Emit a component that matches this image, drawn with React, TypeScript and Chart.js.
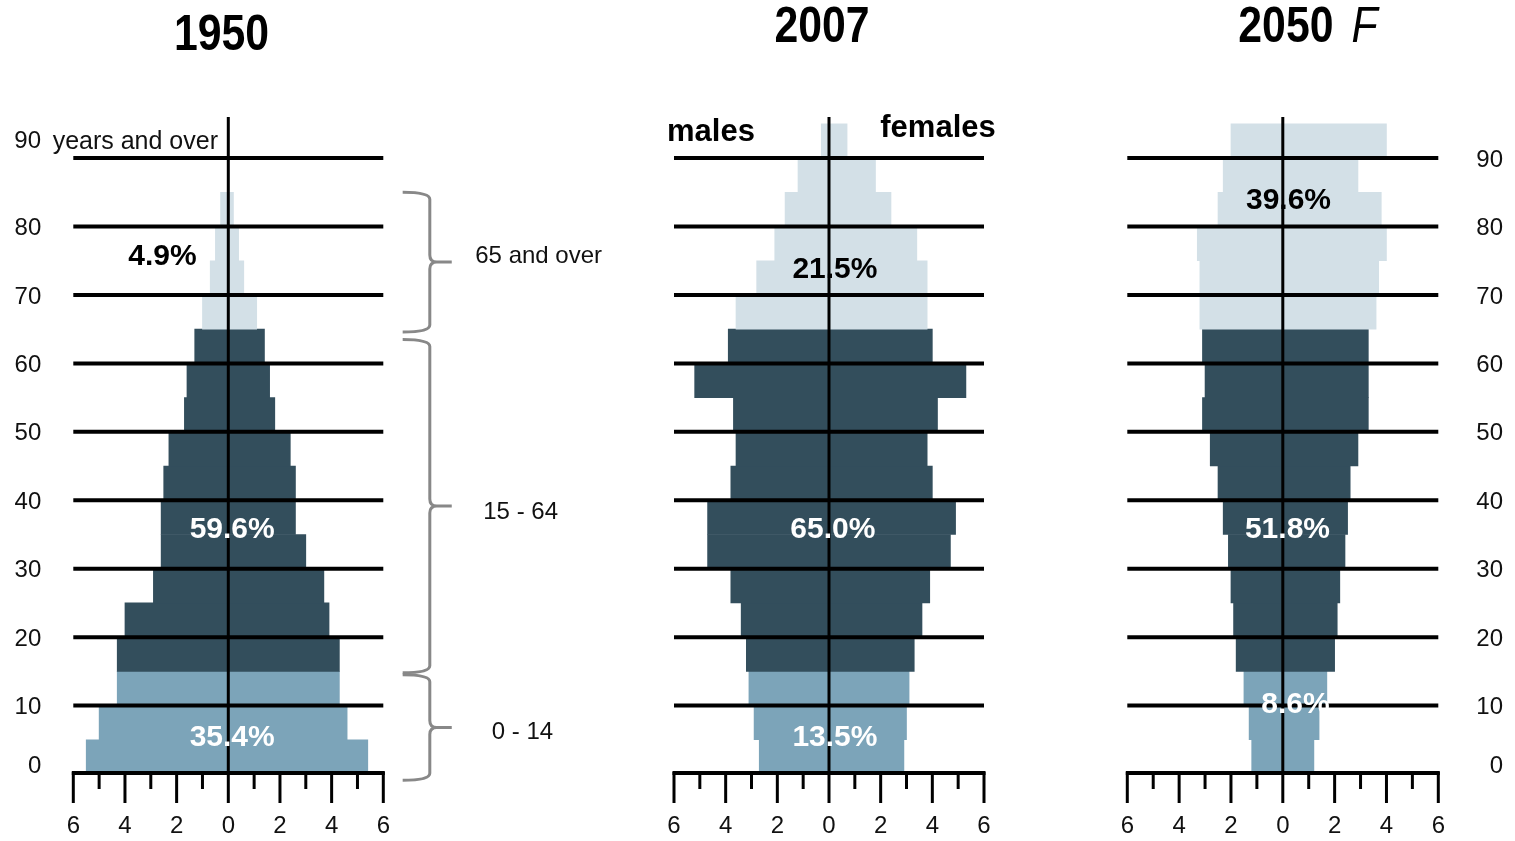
import React, { useEffect, useRef } from 'react';
import { Chart, registerables } from 'chart.js';

Chart.register(...registerables);

// ---------- data ----------
const ageGroups = ['0-4', '5-9', '10-14', '15-19', '20-24', '25-29', '30-34', '35-39', '40-44', '45-49', '50-54', '55-59', '60-64', '65-69', '70-74', '75-79', '80-84', '85-89', '90+'];
const ageGroupStarts = [0, 5, 10, 15, 20, 25, 30, 35, 40, 45, 50, 55, 60, 65, 70, 75, 80, 85, 90];
const ageGroupSpan = 5;

const males1950 = [5.5, 5.0, 4.3, 4.3, 4.0, 2.9, 2.6, 2.6, 2.5, 2.3, 1.7, 1.6, 1.3, 1.0, 0.7, 0.5, 0.3, 0, 0];
const females1950 = [5.4, 4.6, 4.3, 4.3, 3.9, 3.7, 3.0, 2.6, 2.6, 2.4, 1.8, 1.6, 1.4, 1.1, 0.6, 0.4, 0.2, 0, 0];

const males2007 = [2.7, 2.9, 3.1, 3.2, 3.4, 3.8, 4.7, 4.7, 3.8, 3.6, 3.7, 5.2, 3.9, 3.6, 2.8, 2.1, 1.7, 1.2, 0.3];
const females2007 = [2.9, 3.0, 3.1, 3.3, 3.6, 3.9, 4.7, 4.9, 4.0, 3.8, 4.2, 5.3, 4.0, 3.8, 3.8, 3.4, 2.4, 1.8, 0.7];

const males2050 = [1.2, 1.3, 1.5, 1.8, 1.9, 2.0, 2.1, 2.3, 2.5, 2.8, 3.1, 3.0, 3.1, 3.2, 3.2, 3.3, 2.5, 2.3, 2.0];
const females2050 = [1.2, 1.4, 1.7, 2.0, 2.1, 2.2, 2.4, 2.5, 2.6, 2.9, 3.3, 3.3, 3.3, 3.6, 3.7, 4.0, 3.8, 2.9, 4.0];

const broadGroupNames = ['0 - 14', '15 - 64', '65 and over'];
const broadGroupFirstAge = [0, 15, 65];
const shares1950 = ['35.4%', '59.6%', '4.9%'];
const shares2007 = ['13.5%', '65.0%', '21.5%'];
const shares2050 = ['8.6%', '51.8%', '39.6%'];

const xAxisLabelValues = [-6, -4, -2, 0, 2, 4, 6];
const xAxisTickValues = [-6, -5, -4, -3, -2, -1, 0, 1, 2, 3, 4, 5, 6];
const ageGridValues = [10, 20, 30, 40, 50, 60, 70, 80, 90];

// ---------- styles / layout ----------
const FONT = '"Liberation Sans", Arial, Helvetica, sans-serif';
const GROUP_COLORS = ['#7ca4b9', '#334e5c', '#d3e0e7'];
const TEXT_COLOR = '#111';
const CANVAS_H = 841;
const AGE_MAX = 96;

function groupOf(age: number) {
  let g = 0;
  broadGroupFirstAge.forEach((a, i) => { if (age >= a) g = i; });
  return g;
}

type Note = { text: string; x: number; y: number; font: string; align: CanvasTextAlign; color: string };

type Panel = {
  key: string;
  left: number;
  width: number;
  padding: { left: number; right: number; top: number; bottom: number };
  yAxis: 'left' | 'right' | 'none';
  yAxisWidth: number;
  yTicks: number[];
  males: number[];
  females: number[];
  shares: string[];
  shareAt: { x: number; y: number }[];
  title: string;
  titleSuffix?: string;
  titleX: number;
  titleBaseline: number;
  notes: Note[];
  braces: boolean;
};

const panels: Panel[] = [
  {
    key: '1950', left: 0, width: 640,
    padding: { left: 0, right: 256.7, top: 117, bottom: 0 },
    yAxis: 'left', yAxisWidth: 73.3, yTicks: [10, 20, 30, 40, 50, 60, 70, 80],
    males: males1950, females: females1950, shares: shares1950,
    shareAt: [{ x: 0.15, y: 5.3 }, { x: 0.15, y: 35.7 }, { x: -2.55, y: 75.6 }],
    title: '1950', titleX: -0.26, titleBaseline: 49.5,
    notes: [
      { text: '90', x: -7.25, y: 92.4, font: `24px ${FONT}`, align: 'right', color: TEXT_COLOR },
      { text: 'years and over', x: -6.8, y: 92.4, font: `25px ${FONT}`, align: 'left', color: TEXT_COLOR },
    ],
    braces: true,
  },
  {
    key: '2007', left: 640, width: 420,
    padding: { left: 34, right: 76, top: 117, bottom: 0 },
    yAxis: 'none', yAxisWidth: 0, yTicks: [],
    males: males2007, females: females2007, shares: shares2007,
    shareAt: [{ x: 0.23, y: 5.3 }, { x: 0.15, y: 35.7 }, { x: 0.23, y: 73.7 }],
    title: '2007', titleX: -0.27, titleBaseline: 41.5,
    notes: [
      { text: 'males', x: -4.57, y: 93.8, font: `bold 31px ${FONT}`, align: 'center', color: '#000' },
      { text: 'females', x: 4.22, y: 94.3, font: `bold 31px ${FONT}`, align: 'center', color: '#000' },
    ],
    braces: false,
  },
  {
    key: '2050', left: 1080, width: 435,
    padding: { left: 47.3, right: 12, top: 117, bottom: 0 },
    yAxis: 'right', yAxisWidth: 64.7, yTicks: [10, 20, 30, 40, 50, 60, 70, 80, 90],
    males: males2050, females: females2050, shares: shares2050,
    shareAt: [{ x: 0.49, y: 10.1 }, { x: 0.18, y: 35.7 }, { x: 0.22, y: 83.8 }],
    title: '2050', titleSuffix: 'F', titleX: 0.97, titleBaseline: 41.5,
    notes: [],
    braces: false,
  },
];

// brace ranges (age units) and label placement (axis units)
const braceRanges = [[-0.9, 14.5], [14.8, 63.5], [64.6, 85]];
const braceLabelX = [10.2, 9.87, 9.56];
const braceLabelAge = [6.1, 38.3, 75.6];
const BRACE = { spine: 7.8, end: 6.75, tip: 8.65 };

function drawScaledText(ctx: CanvasRenderingContext2D, text: string, x: number, y: number, font: string, sx: number, align: CanvasTextAlign) {
  ctx.save();
  ctx.translate(x, y);
  ctx.scale(sx, 1);
  ctx.font = font;
  ctx.textAlign = align;
  ctx.textBaseline = 'alphabetic';
  ctx.fillStyle = '#000';
  ctx.fillText(text, 0, 0);
  ctx.restore();
}

function makeDecor(p: Panel) {
  return {
    id: 'decor' + p.key,
    afterDatasetsDraw(chart: any) {
      const ctx: CanvasRenderingContext2D = chart.ctx;
      const a = chart.chartArea;
      const xs = chart.scales.x;
      const ys = chart.scales.y;
      ctx.save();
      ctx.strokeStyle = '#000';
      ctx.lineCap = 'butt';

      // horizontal age lines
      ctx.lineWidth = 4;
      for (const v of ageGridValues) {
        const py = ys.getPixelForValue(v);
        ctx.beginPath(); ctx.moveTo(a.left, py); ctx.lineTo(a.right, py); ctx.stroke();
      }
      // zero line
      ctx.lineWidth = 3;
      const x0 = xs.getPixelForValue(0);
      ctx.beginPath(); ctx.moveTo(x0, a.top); ctx.lineTo(x0, a.bottom); ctx.stroke();
      // bottom axis
      ctx.lineWidth = 4;
      ctx.beginPath(); ctx.moveTo(a.left - 1.5, a.bottom - 1); ctx.lineTo(a.right + 1.5, a.bottom - 1); ctx.stroke();
      // tick marks
      ctx.lineWidth = 3;
      for (const v of xAxisTickValues) {
        const px = xs.getPixelForValue(v);
        const len = v % 2 === 0 ? 29 : 15;
        ctx.beginPath(); ctx.moveTo(px, a.bottom - 2); ctx.lineTo(px, a.bottom + len); ctx.stroke();
      }

      // share labels
      ctx.font = `bold 30px ${FONT}`;
      ctx.textAlign = 'center';
      ctx.textBaseline = 'middle';
      p.shares.forEach((s, g) => {
        ctx.fillStyle = g === 2 ? '#000' : '#fff';
        ctx.fillText(s, xs.getPixelForValue(p.shareAt[g].x), ys.getPixelForValue(p.shareAt[g].y));
      });

      // notes
      for (const n of p.notes) {
        ctx.font = n.font;
        ctx.textAlign = n.align;
        ctx.textBaseline = 'middle';
        ctx.fillStyle = n.color;
        ctx.fillText(n.text, xs.getPixelForValue(n.x), ys.getPixelForValue(n.y));
      }

      // "0" age label
      if (p.yAxis !== 'none') {
        ctx.font = `24px ${FONT}`;
        ctx.textAlign = 'right';
        ctx.textBaseline = 'middle';
        ctx.fillStyle = TEXT_COLOR;
        const lx = p.yAxis === 'left' ? ys.right - 32 : ys.right;
        ctx.fillText('0', lx, ys.getPixelForValue(1.17));
      }

      // braces
      if (p.braces) {
        ctx.strokeStyle = '#888';
        ctx.lineWidth = 3;
        const xsP = xs.getPixelForValue(BRACE.spine);
        const xeP = xs.getPixelForValue(BRACE.end);
        const xtP = xs.getPixelForValue(BRACE.tip);
        braceRanges.forEach((r, g) => {
          const yb = ys.getPixelForValue(r[0]);
          const yt = ys.getPixelForValue(r[1]);
          const ym = (yb + yt) / 2;
          const c = 7;
          ctx.beginPath();
          ctx.moveTo(xeP, yt);
          ctx.quadraticCurveTo(xsP, yt, xsP, yt + c);
          ctx.lineTo(xsP, ym - c);
          ctx.quadraticCurveTo(xsP, ym, xsP + c, ym);
          ctx.lineTo(xtP, ym);
          ctx.moveTo(xsP + c, ym);
          ctx.quadraticCurveTo(xsP, ym, xsP, ym + c);
          ctx.lineTo(xsP, yb - c);
          ctx.quadraticCurveTo(xsP, yb, xeP, yb);
          ctx.stroke();
          ctx.font = `24px ${FONT}`;
          ctx.textAlign = 'left';
          ctx.textBaseline = 'middle';
          ctx.fillStyle = TEXT_COLOR;
          ctx.fillText(broadGroupNames[g], xs.getPixelForValue(braceLabelX[g]), ys.getPixelForValue(braceLabelAge[g]));
        });
      }

      // title
      const titleFont = `bold 50px ${FONT}`;
      const sx = 0.855;
      const cx = xs.getPixelForValue(p.titleX);
      if (p.titleSuffix) {
        ctx.font = titleFont;
        const w1 = ctx.measureText(p.title).width * sx;
        const sufFont = `italic 50px ${FONT}`;
        ctx.font = sufFont;
        const w2 = ctx.measureText(p.titleSuffix).width * sx;
        const gap = 18;
        const start = cx - (w1 + gap + w2) / 2;
        drawScaledText(ctx, p.title, start, p.titleBaseline, titleFont, sx, 'left');
        drawScaledText(ctx, p.titleSuffix, start + w1 + gap, p.titleBaseline, sufFont, sx, 'left');
      } else {
        drawScaledText(ctx, p.title, cx, p.titleBaseline, titleFont, sx, 'center');
      }
      ctx.restore();
    },
  };
}

function buildConfig(p: Panel): any {
  const colors = ageGroupStarts.map((a) => GROUP_COLORS[groupOf(a)]);
  const mk = (vals: number[], sign: number) =>
    ageGroupStarts.map((a, i) => ({ x: sign * vals[i], y: a + ageGroupSpan / 2 }));
  return {
    type: 'bar',
    data: {
      labels: ageGroups,
      datasets: [
        { label: 'males', data: mk(p.males, -1), backgroundColor: colors, borderWidth: 0, grouped: false, barPercentage: 1, categoryPercentage: 1 },
        { label: 'females', data: mk(p.females, 1), backgroundColor: colors, borderWidth: 0, grouped: false, barPercentage: 1, categoryPercentage: 1 },
      ],
    },
    options: {
      indexAxis: 'y',
      responsive: false,
      maintainAspectRatio: false,
      animation: false,
      devicePixelRatio: 1,
      events: [],
      layout: { padding: p.padding },
      plugins: { legend: { display: false }, tooltip: { enabled: false }, title: { display: false } },
      scales: {
        x: {
          type: 'linear', min: -6, max: 6, position: 'bottom',
          grid: { display: false, drawTicks: true, tickLength: 33 },
          border: { display: false },
          afterBuildTicks: (s: any) => { s.ticks = xAxisLabelValues.map((v) => ({ value: v })); },
          afterFit: (s: any) => { s.height = CANVAS_H - 774; },
          ticks: {
            autoSkip: false, maxRotation: 0, padding: 5, color: TEXT_COLOR,
            font: { family: FONT, size: 24 },
            callback: (v: any) => String(Math.abs(Number(v))),
          },
        },
        y: {
          type: 'linear', min: 0, max: AGE_MAX, offset: false,
          display: p.yAxis !== 'none',
          position: p.yAxis === 'right' ? 'right' : 'left',
          grid: { display: false, drawTicks: false },
          border: { display: false },
          afterBuildTicks: (s: any) => { s.ticks = p.yTicks.map((v) => ({ value: v })); },
          afterFit: (s: any) => { s.width = p.yAxisWidth; },
          ticks: {
            autoSkip: false, padding: 32, labelOffset: 2, color: TEXT_COLOR,
            crossAlign: p.yAxis === 'right' ? 'far' : 'near',
            font: { family: FONT, size: 24 },
          },
        },
      },
    },
    plugins: [makeDecor(p)],
  };
}

function Pyramid({ panel }: { panel: Panel }) {
  const ref = useRef<HTMLCanvasElement>(null);
  useEffect(() => {
    if (!ref.current) return;
    const chart = new Chart(ref.current, buildConfig(panel));
    return () => chart.destroy();
  }, [panel]);
  return (
    <canvas
      ref={ref}
      width={panel.width}
      height={CANVAS_H}
      style={{ position: 'absolute', left: panel.left, top: 0, width: panel.width, height: CANVAS_H }}
    />
  );
}

export default function App() {
  return (
    <div style={{ position: 'absolute', left: 0, top: 0, width: 1515, height: CANVAS_H, background: '#fff', overflow: 'hidden' }}>
      {panels.map((p) => <Pyramid key={p.key} panel={p} />)}
    </div>
  );
}
